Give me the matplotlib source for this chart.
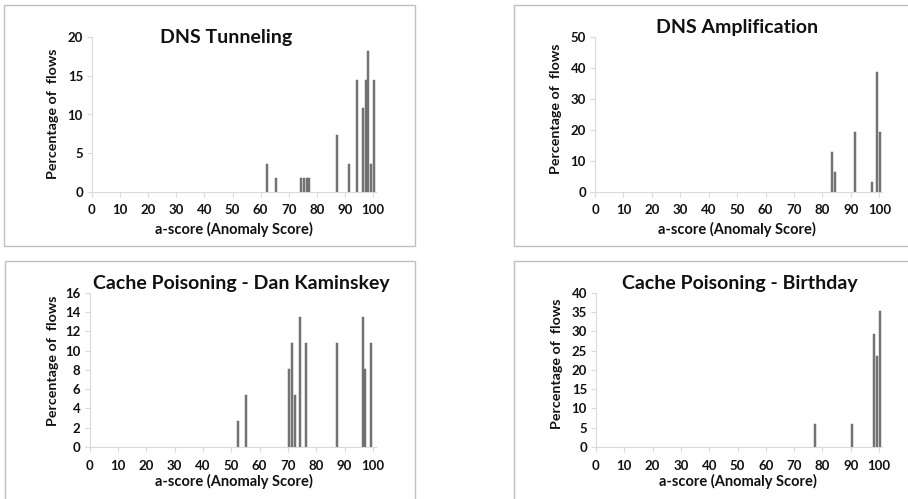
import matplotlib
matplotlib.use("Agg")
import matplotlib.pyplot as plt
from matplotlib.patches import Rectangle

# data (a-score -> % of flows)
tunnel_x = [62, 65, 74, 75, 76, 77, 87, 91, 94, 96, 97, 98, 99, 100]
tunnel_y = [3.6, 1.8, 1.8, 1.8, 1.8, 1.8, 7.3, 3.6, 14.5, 10.9, 14.5, 18.2, 3.6, 14.5]

amp_x = [83, 84, 91, 97, 99, 100]
amp_y = [12.9, 6.5, 19.4, 3.2, 38.7, 19.4]

kam_x = [52, 55, 70, 71, 72, 74, 76, 87, 96, 97, 99]
kam_y = [2.7, 5.4, 8.1, 10.8, 5.4, 13.5, 10.8, 10.8, 13.5, 8.1, 10.8]

bday_x = [77, 90, 98, 99, 100]
bday_y = [5.9, 5.9, 29.4, 23.5, 35.3]

titles = ["DNS Tunneling", "DNS Amplification",
          "Cache Poisoning - Dan Kaminskey", "Cache Poisoning - Birthday"]
xticks = list(range(0, 101, 10))

W, H = 908, 499
FONT = "Lato"
GRID = "#d9d9d9"
INK = "#111111"

fig = plt.figure(figsize=(W / 100, H / 100), dpi=100)


def fx(x):
    return x / W


def fy(y):
    return 1 - y / H


def panel(xs, ys, title, ymax, ystep, x0, x100, ybase, ytop, tpos, xlpos, ylpos):
    k = (x100 - x0) / 100.0
    left, right = x0, x0 + 101 * k
    ax = fig.add_axes([fx(left), fy(ybase), (right - left) / W, (ybase - ytop) / H])
    ax.bar(xs, ys, width=0.7, align="edge", color="#7a7a7a",
           edgecolor="#5a5a5a", linewidth=0.3)
    ax.set_xlim(0, 101)
    ax.set_ylim(0, ymax)
    ax.set_xticks(xticks)
    ax.set_yticks(list(range(0, ymax + 1, ystep)))
    for s in ["top", "right"]:
        ax.spines[s].set_visible(False)
    for s in ["left", "bottom"]:
        ax.spines[s].set_color(GRID)
        ax.spines[s].set_linewidth(0.8)
    ax.tick_params(axis="both", colors=GRID, length=3.5, width=0.8,
                   labelcolor=INK, labelsize=9.5)
    ax.tick_params(axis="x", pad=5.5)
    ax.tick_params(axis="y", pad=3)
    for lab in ax.get_xticklabels() + ax.get_yticklabels():
        lab.set_fontfamily(FONT)
        lab.set_fontweight("bold")
    fig.text(fx(tpos[0]), fy(tpos[1]), title, ha="center", va="baseline",
             fontsize=14, fontweight="bold", family=FONT, color=INK)
    fig.text(fx(xlpos[0]), fy(xlpos[1]), "a-score (Anomaly Score)", ha="center",
             va="baseline", fontsize=10.5, fontweight="bold", family=FONT,
             color=INK)
    fig.text(fx(ylpos[0]), fy(ylpos[1]), "Percentage of  flows", ha="center",
             va="center", rotation=90, fontsize=10.3, fontweight="bold",
             family=FONT, color=INK)
    return ax


# panel frames
for (x1, y1, x2, y2) in [(4, 5, 414.5, 246), (513.5, 5, 912, 246),
                         (5, 261, 414.5, 505), (513.5, 261, 912, 505)]:
    fig.add_artist(Rectangle((fx(x1), fy(y2)), (x2 - x1) / W, (y2 - y1) / H,
                             transform=fig.transFigure, fill=False,
                             edgecolor="#bfbfbf", linewidth=1.0))

panel(tunnel_x, tunnel_y, titles[0], 20, 5, 92, 373, 192, 37,
      (226.5, 42.5), (233.5, 234), (53, 114))
panel(amp_x, amp_y, titles[1], 50, 10, 595, 879.3, 192, 37,
      (737, 33), (736.5, 234), (556.5, 109))
panel(kam_x, kam_y, titles[2], 16, 2, 89.5, 373, 447, 292.7,
      (241, 289), (233.7, 486), (53, 361))
panel(bday_x, bday_y, titles[3], 40, 5, 596, 879, 447, 292.7,
      (739.5, 289), (738, 486), (557, 364))

fig.savefig("out.png", dpi=100, facecolor="white")
